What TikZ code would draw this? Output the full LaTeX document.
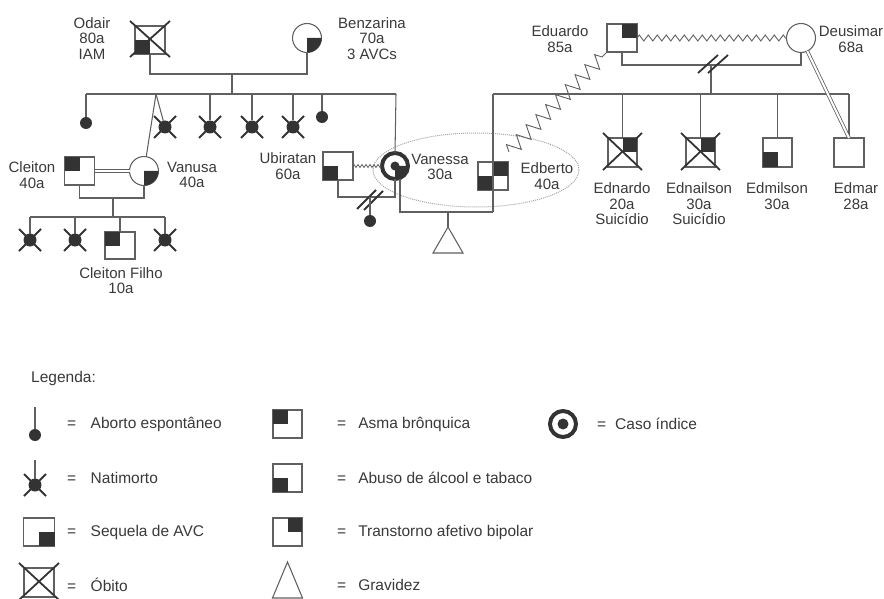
\documentclass[tikz,border=0pt]{standalone}
\usepackage{fontspec}
\setmainfont{Liberation Sans}
\usetikzlibrary{shapes.geometric,decorations.pathmorphing}
\definecolor{ln}{HTML}{606060}
\definecolor{fl}{HTML}{333333}
\definecolor{tx}{HTML}{3A3A3A}
\newcommand\qTL[1]{\fill[fl] (#1.north west) rectangle (#1.center);}
\newcommand\qTR[1]{\fill[fl] (#1.north) rectangle (#1.east);}
\newcommand\qBL[1]{\fill[fl] (#1.west) rectangle (#1.south);}
\newcommand\qBR[1]{\fill[fl] (#1.center) rectangle (#1.south east);}
\newcommand\cBR[1]{\fill[fl] (#1.center) -- (#1.east) arc[start angle=0,end angle=-90,radius=14.5pt] -- cycle;}
\newcommand\natx[1]{\draw[xl] ([shift={(-11,-11)}]#1.center) -- ([shift={(11,11)}]#1.center);
  \draw[xl] ([shift={(11,-11)}]#1.center) -- ([shift={(-11,11)}]#1.center);}
\newcommand\obx[1]{\draw[xl] ([shift={(-5,-5)}]#1.north west) -- ([shift={(5,3)}]#1.south east);
  \draw[xl] ([shift={(5,-5)}]#1.north east) -- ([shift={(-5,3)}]#1.south west);}
\begin{document}
\begin{tikzpicture}[x=1pt,y=-1pt,
  sq/.style={draw=ln, line width=1.05pt, rectangle, minimum width=30pt, minimum height=28pt, inner sep=0pt, outer sep=0pt},
  ci/.style={draw=ln, line width=1.05pt, circle, minimum size=29pt, inner sep=0pt, outer sep=0pt},
  lbl/.style={text=tx, align=center, font=\fontsize{15}{15.5}\selectfont, inner sep=0pt},
  lgt/.style={text=tx, anchor=west, font=\fontsize{15.5}{16}\selectfont, inner sep=0pt},
  dotn/.style={circle, fill=fl, minimum size=12pt, inner sep=0pt, outer sep=0pt},
  nati/.style={circle, fill=fl, minimum size=13pt, inner sep=0pt, outer sep=0pt},
  lk/.style={draw=ln, line width=1.05pt},
  xl/.style={draw=fl, line width=1.8pt},
  zz/.style={draw=ln, line width=0.9pt, decorate, decoration={zigzag, segment length=9pt, amplitude=3pt}},
  zzs/.style={draw=ln, line width=0.8pt, decorate, decoration={zigzag, segment length=4pt, amplitude=1.5pt}},
  zzb/.style={draw=ln, line width=0.9pt, decorate, decoration={zigzag, segment length=14pt, amplitude=7pt}},
  dbl/.style={draw=ln, line width=0.8pt, double=white, double distance=2pt},
  idx/.style={circle, draw=fl, line width=4pt, minimum size=26pt, inner sep=0pt, outer sep=0pt}
]
\fill[white] (0,0) rectangle (884,599);
\useasboundingbox (0,0) rectangle (884,599);

% ---------- top generation (left)
\node[sq] (odair) at (150,40) {}; \qBL{odair} \obx{odair}
\node[lbl] (lodair) at (92,38.5) {Odair\\80a\\IAM};
\node[ci] (benz) at (307,38) {}; \cBR{benz}
\node[lbl] (lbenz) at (372,38.5) {Benzarina\\70a\\3 AVCs};
\coordinate (c1) at (232,74);
\coordinate (s1) at (232,94);
\coordinate (s1L) at (86,94);
\coordinate (s1R) at (396,94);
\coordinate (tw) at (156,94);
\draw[lk] (odair.south) |- (c1) -| (benz.south);
\draw[lk] (c1) -- (s1);
\draw[lk] (s1L) -- (s1R);

\node[dotn] (ab1) at (86,123) {};
\draw[lk] (s1L) -- (ab1);
\node[nati] (nt1) at (165,127) {}; \natx{nt1}
\node[nati] (nt2) at (210,127) {}; \natx{nt2}
\node[nati] (nt3) at (252,127) {}; \natx{nt3}
\node[nati] (nt4) at (293,127) {}; \natx{nt4}
\node[dotn] (ab2) at (322,117) {};
\draw[lk] (tw) -- (nt1);
\draw[lk] (nt2 |- s1) -- (nt2);
\draw[lk] (nt3 |- s1) -- (nt3);
\draw[lk] (nt4 |- s1) -- (nt4);
\draw[lk] (ab2 |- s1) -- (ab2);

% ---------- Cleiton & Vanusa
\node[sq] (cleiton) at (79.5,171) {}; \qTL{cleiton}
\node[lbl] (lcleiton) at (32,175) {Cleiton\\40a};
\node[ci] (vanusa) at (144,171) {}; \cBR{vanusa}
\node[lbl] (lvanusa) at (192,175) {Vanusa\\40a};
\draw[lk] (tw) -- (vanusa);
\draw[dbl] (cleiton.east) -- (vanusa.west);
\coordinate (c2) at (113,198);
\coordinate (s2) at (113,217);
\coordinate (s2L) at (30,217);
\coordinate (s2R) at (165,217);
\draw[lk] (cleiton.south) |- (c2) -| (vanusa.south);
\draw[lk] (c2) -- (s2);
\draw[lk] (s2L) -- (s2R);
\node[nati] (nt5) at (30,240) {}; \natx{nt5}
\node[nati] (nt6) at (75,240) {}; \natx{nt6}
\node[nati] (nt7) at (165,240) {}; \natx{nt7}
\node[sq, minimum height=27pt] (cfilho) at (120,245.5) {}; \qTL{cfilho}
\draw[lk] (s2L) -- (nt5);
\draw[lk] (nt6 |- s2) -- (nt6);
\draw[lk] (nt7 |- s2) -- (nt7);
\draw[lk] (cfilho |- s2) -- (cfilho);
\node[lbl] (lcfilho) at (121,280.5) {Cleiton Filho\\10a};

% ---------- Ubiratan, Vanessa, Edberto
\node[sq] (ubir) at (338,166) {}; \qBL{ubir}
\node[lbl] (lubir) at (288,166) {Ubiratan\\60a};
\node[ellipse, draw=gray!70, densely dotted, line width=1pt, minimum width=206pt, minimum height=74pt, inner sep=0pt] (grp) at (476,170) {};
\node[idx] (vanessa) at (395,166) {};
\fill[fl] (vanessa.center) -- (vanessa.east) arc[start angle=0,end angle=-90,radius=13pt] -- cycle;
\fill[fl] (vanessa.center) circle[radius=4.5pt];
\node[lbl] (lvanessa) at (440,167) {Vanessa\\30a};
\draw[lk] (s1R) -- (vanessa.north);
\draw[zzs] (ubir.east) -- (vanessa.west);
\coordinate (c3) at (370,197);
\draw[lk] (ubir.south) |- (c3) -| (vanessa.south);
\draw[xl] ([shift={(-13,12)}]c3) -- ([shift={(6,-7)}]c3);
\draw[xl] ([shift={(-6,13)}]c3) -- ([shift={(13,-6)}]c3);
\node[dotn] (ab3) at (370,221) {};
\draw[lk] (c3) -- (ab3);

\node[sq] (edb) at (493,176) {}; \qTR{edb} \qBL{edb}
\node[lbl] (ledb) at (547,176) {Edberto\\40a};
\coordinate (s3L) at (493,94);
\coordinate (c4R) at (493,212);
\coordinate (c4L) at (400,212);
\coordinate (c4) at (448,212);
\coordinate (preg) at (448,227);
\coordinate (zzstart) at (509,152);
\draw[lk] (s3L) -- (c4R);
\draw[lk] ([xshift=5pt]vanessa.south) -- (c4L) -- (c4R);
\draw[lk] (c4) -- (preg);
\draw[lk] (preg) -- ++(-15,26) -- ++(30,0) -- cycle;

% ---------- Eduardo & Deusimar
\node[sq] (edu) at (622,38) {}; \qTR{edu}
\node[lbl] (ledu) at (560,39) {Eduardo\\85a};
\node[ci] (deu) at (801,38) {};
\node[lbl] (ldeu) at (851,39) {Deusimar\\68a};
\draw[zz] (edu.east) -- (deu.west);
\draw[zzb] (zzstart) -- (edu.south west);
\coordinate (c5) at (711,65);
\coordinate (s3) at (711,94);
\coordinate (s3R) at (849,94);
\draw[lk] (edu.south) |- (c5) -| (deu.south);
\draw[lk] (c5) -- (s3);
\draw[xl] ([shift={(-13,8)}]c5) -- ([shift={(7,-10)}]c5);
\draw[xl] ([shift={(-3,8)}]c5) -- ([shift={(17,-10)}]c5);
\draw[lk] (s3L) -- (s3R);

\node[sq, minimum width=29pt, minimum height=29pt] (ednardo) at (622.5,152.5) {}; \qTR{ednardo} \obx{ednardo}
\node[sq, minimum width=29pt, minimum height=29pt] (ednailson) at (700.5,152.5) {}; \qTR{ednailson} \obx{ednailson}
\node[sq, minimum width=29pt, minimum height=29pt] (edmilson) at (777.5,152.5) {}; \qBL{edmilson}
\node[sq, minimum width=30pt, minimum height=29pt] (edmar) at (849,152.5) {};
\draw[lk] (ednardo |- s3) -- (ednardo);
\draw[lk] (ednailson |- s3) -- (ednailson);
\draw[lk] (edmilson |- s3) -- (edmilson);
\draw[lk] (s3R) -- (edmar);
\draw[dbl] (deu) -- (edmar.north);
\node[lbl] (lednardo) at (622,204) {Ednardo\\20a\\Suicídio};
\node[lbl] (lednailson) at (699,204) {Ednailson\\30a\\Suicídio};
\node[lbl] (ledmilson) at (777,196) {Edmilson\\30a};
\node[lbl] (ledmar) at (856,196) {Edmar\\28a};

% ---------- Legend
\node[lgt] (leg) at (31,378) {Legenda:};
\coordinate (Labt) at (35,407);
\node[dotn] (Lab) at (35,435) {};
\draw[lk] (Labt) -- (Lab);
\node[lgt] (tLab) at (67,424) {=\hspace{14.5pt}Aborto espontâneo};
\coordinate (Lnatt) at (35,460);
\node[nati] (Lnat) at (35,485) {}; \natx{Lnat}
\draw[lk] (Lnatt) -- (Lnat);
\node[lgt] (tLnat) at (67,478) {=\hspace{14.5pt}Natimorto};
\node[sq, minimum width=31pt] (Lavc) at (39,532) {}; \qBR{Lavc}
\node[lgt] (tLavc) at (67,532) {=\hspace{14.5pt}Sequela de AVC};
\node[sq, minimum width=30pt, minimum height=29pt] (Lob) at (39,582.5) {}; \obx{Lob}
\node[lgt] (tLob) at (67,585) {=\hspace{14.5pt}Óbito};

\node[sq, minimum width=29pt] (Lasma) at (287.5,424) {}; \qTL{Lasma}
\node[lgt] (tLasma) at (337,424) {=\hspace{12pt}Asma brônquica};
\node[sq, minimum width=29pt] (Labuso) at (287.5,478) {}; \qBL{Labuso}
\node[lgt] (tLabuso) at (337,478) {=\hspace{12pt}Abuso de álcool e tabaco};
\node[sq, minimum width=29pt] (Ltrans) at (287.5,532) {}; \qTR{Ltrans}
\node[lgt] (tLtrans) at (337,532) {=\hspace{12pt}Transtorno afetivo bipolar};
\coordinate (Lpreg) at (287.5,562);
\draw[lk] (Lpreg) -- ++(-15,36) -- ++(30,0) -- cycle;
\node[lgt] (tLpreg) at (337,585) {=\hspace{12pt}Gravidez};

\node[idx] (Lidx) at (563,424) {};
\fill[fl] (Lidx.center) circle[radius=5.5pt];
\node[lgt] (tLidx) at (597,424) {=\hspace{9pt}Caso índice};
\end{tikzpicture}
\end{document}
